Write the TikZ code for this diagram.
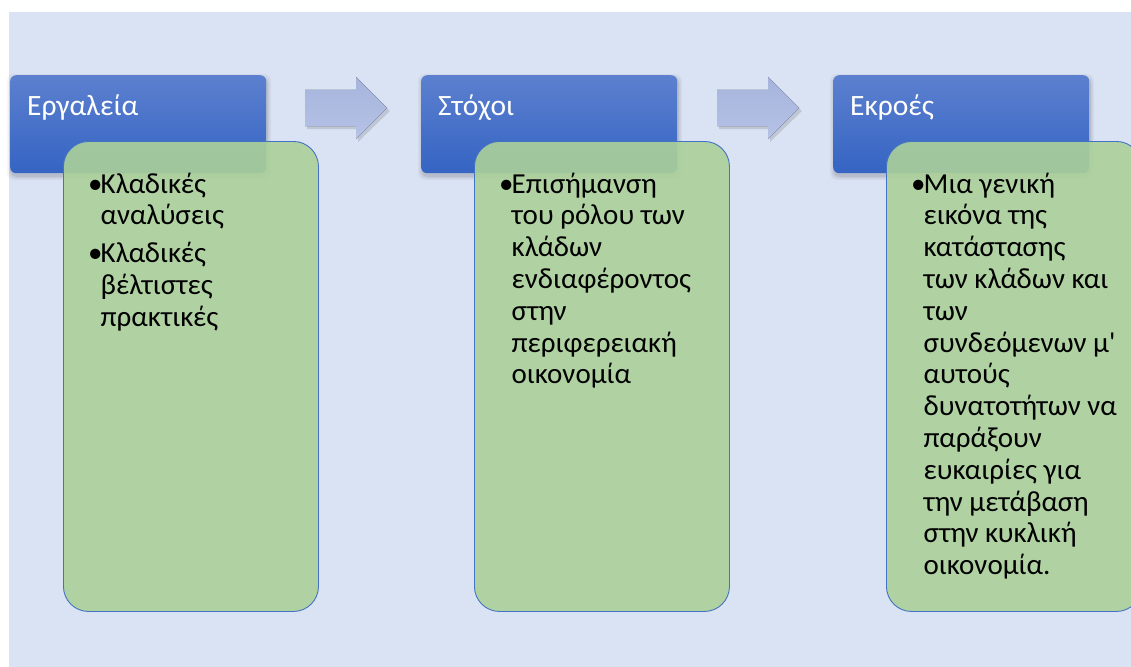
\documentclass[tikz,border=0pt]{standalone}
\usepackage{fontspec}
\setmainfont{Carlito}[Ligatures=TeXOff]
\usetikzlibrary{calc}
\definecolor{bgblue}{HTML}{DAE3F3}
\definecolor{hdrtop}{HTML}{5C80CF}
\definecolor{hdrbot}{HTML}{3564C3}
\definecolor{grnfill}{HTML}{ACD19A}
\definecolor{grnline}{HTML}{4472C4}
\definecolor{arrtop}{HTML}{A6B4DC}
\definecolor{arrbot}{HTML}{B6C2E6}
\newcommand{\bitem}[1]{\hangindent=12.5pt\hangafter=1\noindent\makebox[12.5pt][l]{•}#1\par}
\newcommand{\blist}[1]{\vtop{\hsize=225pt\parskip=6pt\parindent=0pt\rightskip=0pt plus 1fil\relax #1}}
\newcommand{\mkshadow}[4]{%
  \foreach \e/\o in {4/0.035,2.5/0.05,1/0.08}{%
    \fill[black,opacity=\o,rounded corners=7pt]
      ($(#1,#2)+(1-\e,3-\e)$) rectangle ($(#1+#3,#2+#4)+(1+\e,3+\e)$);}}
\tikzset{
  hdrbox/.style={rectangle, rounded corners=6pt, minimum width=256pt, minimum height=98pt,
    inner sep=0pt, top color=hdrtop, bottom color=hdrbot, draw=none, anchor=north west},
  grnbox/.style={rectangle, rounded corners=25pt, minimum width=255pt, minimum height=470pt,
    inner sep=0pt, fill=grnfill, fill opacity=0.9, draw=grnline, draw opacity=1,
    line width=0.9pt, anchor=north west},
  hdrtext/.style={anchor=base west, inner sep=0pt, text=white,
    font=\fontsize{29.5}{32}\selectfont},
  bodytext/.style={anchor=base west, inner sep=0pt, text=black,
    font=\fontsize{29}{31.8}\selectfont},
  blockarrow/.style={top color=arrtop, bottom color=arrbot, draw=none},
  arrshadow/.style={fill=black, opacity=0.12}
}
\begin{document}
\begin{tikzpicture}[x=1pt,y=-1pt]
\useasboundingbox (0,0) rectangle (1131,666);
\clip (0,0) rectangle (1131,666);
\fill[bgblue] (9,12) rectangle (1140,670);

% block arrows
\coordinate (a1) at (305,108);
\coordinate (a2) at (717,108);
\foreach \c in {a1,a2}{
  \begin{scope}[shift={(\c)}]
    \fill[arrshadow] (2,-15) -- (53,-15) -- (53,-28) -- (85,3) -- (53,34) -- (53,21) -- (2,21) -- cycle;
    \fill[blockarrow] (0,-18) -- (51,-18) -- (51,-31) -- (82,0) -- (51,31) -- (51,18) -- (0,18) -- cycle;
  \end{scope}
}

% header boxes
\mkshadow{10}{75}{256}{98}
\mkshadow{421}{75}{256}{98}
\mkshadow{833}{75}{256}{98}
\node[hdrbox] (h1) at (10,75) {};
\node[hdrbox] (h2) at (421,75) {};
\node[hdrbox] (h3) at (833,75) {};
\node[hdrtext] (t1) at ($(h1.north west)+(17,40)$) {Εργαλεία};
\node[hdrtext] (t2) at ($(h2.north west)+(17,40)$) {Στόχοι};
\node[hdrtext] (t3) at ($(h3.north west)+(17,40)$) {Εκροές};

% green boxes
\node[grnbox] (g1) at (63,141) {};
\node[grnbox] (g2) at (474,141) {};
\node[grnbox] (g3) at (886,141) {};

\node[bodytext] (b1) at ($(g1.north west)+(25,52)$) {\blist{%
  \bitem{Κλαδικές\newline αναλύσεις}%
  \bitem{Κλαδικές\newline βέλτιστες\newline πρακτικές}}};
\node[bodytext] (b2) at ($(g2.north west)+(25,52)$) {\blist{%
  \bitem{Επισήμανση\newline του ρόλου των\newline κλάδων\newline ενδιαφέροντος\newline στην\newline περιφερειακή\newline οικονομία}}};
\node[bodytext] (b3) at ($(g3.north west)+(25,52)$) {\blist{%
  \bitem{Μια γενική\newline εικόνα της\newline κατάστασης\newline των κλάδων και\newline των\newline συνδεόμενων μ'\newline αυτούς\newline δυνατοτήτων να\newline παράξουν\newline ευκαιρίες για\newline την μετάβαση\newline στην κυκλική\newline οικονομία.}}};
\end{tikzpicture}
\end{document}
